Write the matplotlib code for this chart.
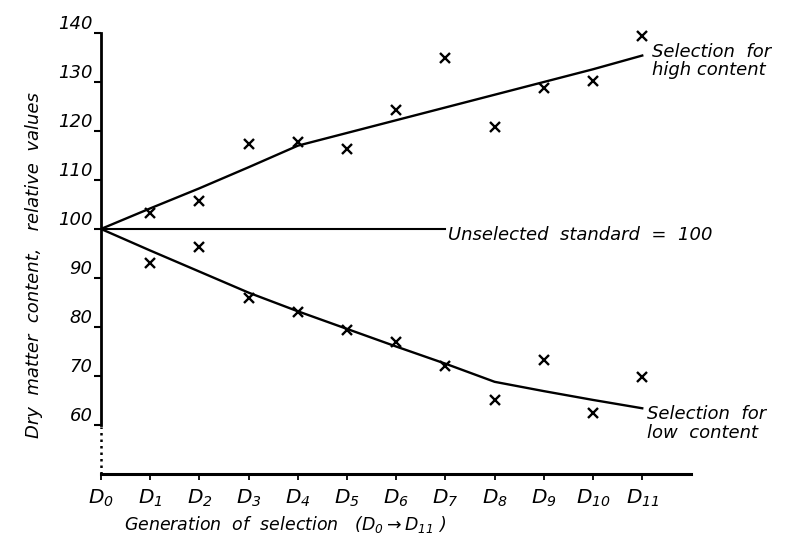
import matplotlib
matplotlib.use("Agg")
import matplotlib.pyplot as plt

# --- datos ---
generaciones = list(range(12))
etiquetas_x = [r"$D_{%d}$" % g for g in generaciones]
alto_puntos = [None, 103.3, 105.7, 117.3, 117.8, 116.3, 124.3, 134.9, 120.8, 128.8, 130.2, 139.4]
bajo_puntos = [None, 93.1, 96.3, 85.9, 83.0, 79.4, 76.9, 72.0, 65.1, 73.3, 62.4, 69.8]
alto_linea = [100, 104.2, 108.3, 112.6, 117.0, 119.6, 122.2, 124.8, 127.4, 130.0, 132.6, 135.4]
bajo_linea = [100, 95.6, 91.3, 87.0, 83.2, 79.6, 76.0, 72.5, 68.8, 66.9, 65.1, 63.4]
estandar_x = [0, 7.0]
estandar_y = [100, 100]
yticks = [60, 70, 80, 90, 100, 110, 120, 130, 140]

plt.rcParams["font.family"] = "DejaVu Sans"
plt.rcParams["font.style"] = "italic"
plt.rcParams["mathtext.default"] = "it"

fig = plt.figure(figsize=(7.86, 5.41), dpi=100)
ax = fig.add_axes([0.1285, 0.124, 0.7512, 0.815])

ax.plot(generaciones, alto_linea, color="black", lw=1.7)
ax.plot(generaciones, bajo_linea, color="black", lw=1.7)
ax.plot(estandar_x, estandar_y, color="black", lw=1.5)

xs_a = [g for g, v in zip(generaciones, alto_puntos) if v is not None]
ys_a = [v for v in alto_puntos if v is not None]
xs_b = [g for g, v in zip(generaciones, bajo_puntos) if v is not None]
ys_b = [v for v in bajo_puntos if v is not None]
ax.plot(xs_a, ys_a, "x", color="black", ms=6.5, mew=1.7, clip_on=False)
ax.plot(xs_b, ys_b, "x", color="black", ms=6.5, mew=1.7, clip_on=False)

# eje y punteado debajo de 60
ax.plot([0, 0], [50, 59.5], color="black", lw=1.8, ls=(0, (1, 1.6)), clip_on=False)

ax.set_xlim(0, 12)
ax.set_ylim(50, 140)
for lado in ["top", "right"]:
    ax.spines[lado].set_visible(False)
ax.spines["left"].set_bounds(60, 140)
ax.spines["left"].set_linewidth(2)
ax.spines["bottom"].set_linewidth(2.2)

ax.set_yticks(yticks)
ax.set_yticklabels([str(t) for t in yticks], fontsize=13)
ax.tick_params(axis="y", direction="out", length=5, width=1.5, pad=1)
for lab in ax.get_yticklabels():
    lab.set_va("bottom")

ax.set_xticks(generaciones)
ax.set_xticklabels(etiquetas_x, fontsize=14.5)
ax.tick_params(axis="x", direction="out", length=4, width=1.3, pad=6)

ax.text(11.2, 134.2, "Selection  for\nhigh content", fontsize=13, ha="left", va="center",
        linespacing=1.0)
ax.text(7.05, 98.8, "Unselected  standard  =  100", fontsize=13, ha="left", va="center")
ax.text(11.1, 60.3, "Selection  for\nlow  content", fontsize=13, ha="left", va="center",
        linespacing=1.05)

fig.text(0.043, 0.51, "Dry  matter  content,   relative  values", rotation=90,
         fontsize=13, ha="center", va="center")
fig.text(0.158, 0.03, r"Generation  of  selection   ($D_{0}\rightarrow D_{11}$ )",
         fontsize=12.5, ha="left", va="center")

fig.savefig("out.png", dpi=100)
